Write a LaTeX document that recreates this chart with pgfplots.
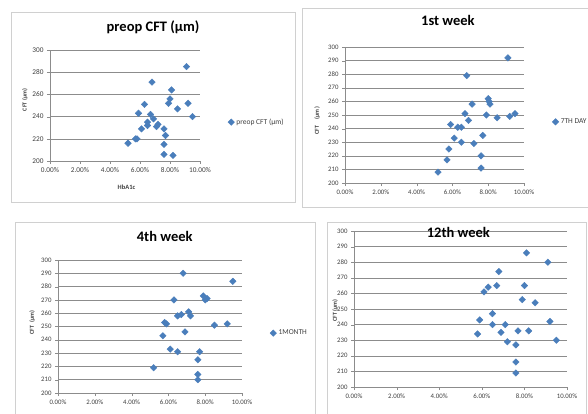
\documentclass[border=0pt]{standalone}
\usepackage{pgfplots}
\pgfplotsset{compat=1.18}
\usepackage{fontspec}
\setmainfont{Carlito}
\definecolor{mk}{HTML}{4A7EBB}
\definecolor{gridc}{HTML}{8C8C8C}
\definecolor{framec}{HTML}{D0D0D0}
\definecolor{txt}{HTML}{404040}
\pgfplotsset{dm/.style={color=mk, only marks, mark=square*, mark size=2.3pt, mark options={fill=mk, draw=mk, rotate=45}}}
\pgfplotsset{panel/.style={
  scale only axis, anchor=north west,
  axis x line*=bottom, axis y line*=left,
  axis line style={gridc,-}, 
  xmin=0, xmax=10, xtick={0,2,...,10},
  xticklabels={0.00\%,2.00\%,4.00\%,6.00\%,8.00\%,10.00\%},
  ymin=200, ymax=300,
  ymajorgrids, grid style={gridc, line width=0.6pt},
  tick style={gridc}, major tick length=3pt, tick align=outside,
  xtick pos=bottom, ytick pos=left,
  ticklabel style={font=\fontsize{6.8}{7}\selectfont, text=txt},
  /pgf/number format/assume math mode=true,
  title style={font=\bfseries\fontsize{14.5}{16}\selectfont, anchor=base},
  ylabel style={font=\bfseries\fontsize{6}{7}\selectfont, anchor=center, text=txt},
  xlabel style={font=\bfseries\fontsize{6.5}{7}\selectfont, anchor=center, text=txt},
  legend style={draw=none, fill=none, font=\fontsize{7.5}{8}\selectfont, anchor=west, text=txt},
  legend image code/.code={\draw[#1] plot coordinates {(0.08cm,0cm)};},
}}
\begin{document}
\begin{tikzpicture}
\path[use as bounding box] (0,0) rectangle (588pt,-413pt);
\fill[white] (0,0) rectangle (588pt,-413pt);
\draw[framec, line width=1pt] (11pt,-12pt) rectangle (295pt,-202pt);
\draw[framec, line width=1pt] (302pt,-8pt) rectangle (600pt,-207pt);
\draw[framec, line width=1pt] (15pt,-222pt) rectangle (315pt,-430pt);
\draw[framec, line width=1pt] (327pt,-222pt) rectangle (586pt,-430pt);

% Panel 1
\begin{axis}[panel, at={(50pt,-50pt)}, width=150pt, height=111pt,
  ytick={200,220,...,300},
  ticklabel style={font=\fontsize{7.3}{8}\selectfont},
  title={preop CFT (µm)}, title style={at={(rel axis cs:0.687,1)}, yshift=13pt},
  ylabel={CFT (µm)}, ylabel style={at={(rel axis cs:-0.167,0.55)}},
  xlabel={HbA1c}, xlabel style={at={(rel axis cs:0.51,0)}, yshift=-26pt},
  legend style={at={(rel axis cs:1.165,0.35)}}]
\addplot[dm] coordinates {(5.2,216) (5.7,220) (5.8,220) (5.9,243) (6.1,229) (6.3,251)
 (6.5,235) (6.5,232) (6.8,271) (6.7,242) (6.9,238) (7.1,231) (7.2,233) (7.6,229)
 (7.6,215) (7.6,206) (7.7,223) (7.9,252) (8.0,256) (8.1,264) (8.2,205) (8.5,247)
 (9.1,285) (9.2,252) (9.5,240)};
\addlegendentry{preop CFT (µm)}
\end{axis}

% Panel 2
\begin{axis}[panel, at={(345pt,-47pt)}, width=179pt, height=136pt,
  ytick={200,210,...,300},
  title={1st week}, title style={at={(rel axis cs:0.575,1)}, yshift=16pt},
  ylabel={CFT\quad (µm )}, ylabel style={at={(rel axis cs:-0.156,0.46)}},
  legend style={at={(rel axis cs:1.14,0.45)}}]
\addplot[dm] coordinates {(5.2,208) (5.7,217) (5.8,225) (5.9,243) (6.1,233) (6.3,241)
 (6.5,241) (6.5,230) (6.7,251) (6.8,279) (6.9,246) (7.1,258) (7.2,229) (7.6,220)
 (7.6,211) (7.7,235) (7.9,250) (8.0,262) (8.05,260) (8.1,258) (8.5,248) (9.1,292)
 (9.2,249) (9.5,251)};
\addlegendentry{7TH DAY}
\end{axis}

% Panel 3
\begin{axis}[panel, at={(58pt,-260pt)}, width=184pt, height=133pt,
  ytick={200,210,...,300},
  title={4th week}, title style={at={(rel axis cs:0.58,1)}, yshift=13pt},
  ylabel={CFT\enspace (µm)}, ylabel style={at={(rel axis cs:-0.141,0.53)}},
  legend style={at={(rel axis cs:1.135,0.45)}}]
\addplot[dm] coordinates {(5.2,219) (5.7,243) (5.8,253) (5.9,252) (6.1,233) (6.3,270)
 (6.5,258) (6.7,259) (6.5,231) (6.8,290) (6.9,246) (7.1,261) (7.2,258) (7.6,225)
 (7.6,214) (7.6,210) (7.7,231) (7.9,273) (8.0,270) (8.1,271) (8.5,251) (9.2,252)
 (9.5,284)};
\addlegendentry{1MONTH}
\end{axis}

% Panel 4
\begin{axis}[panel, at={(354pt,-231pt)}, width=213pt, height=156pt,
  ytick={200,210,...,300},
  title={12th week}, title style={at={(rel axis cs:0.49,1)}, yshift=-12pt},
  ylabel={CFT (µm)}, ylabel style={at={(rel axis cs:-0.089,0.49)}}]
\addplot[dm] coordinates {(5.8,234) (5.9,243) (6.1,261) (6.3,264) (6.5,247) (6.5,240)
 (6.7,265) (6.8,274) (6.9,235) (7.1,240) (7.2,229) (7.6,227) (7.6,216) (7.6,209)
 (7.7,236) (7.9,256) (8.0,265) (8.1,286) (8.2,236) (8.5,254) (9.1,280) (9.2,242)
 (9.5,230)};
\end{axis}
\end{tikzpicture}
\end{document}
